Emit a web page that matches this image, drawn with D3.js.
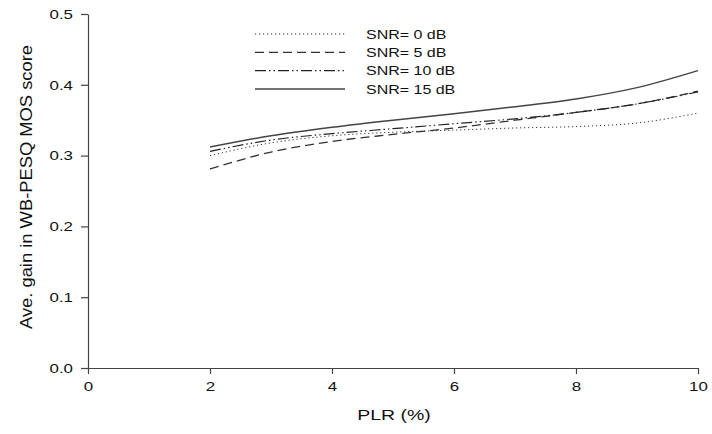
<!DOCTYPE html>
<html><head><meta charset="utf-8">
<script src="https://cdn.jsdelivr.net/npm/d3@7"></script>
<style>body{margin:0;background:#fff}svg{display:block}text{font-family:"Liberation Sans",Arial,sans-serif}</style>
</head><body>
<svg id="c" width="712" height="434"></svg>
<script>
const plr = [2, 3, 4, 5, 6, 7, 8, 9, 10];
const snr0 = [0.300, 0.318, 0.328, 0.333, 0.336, 0.339, 0.341, 0.346, 0.360];
const snr5 = [0.281, 0.305, 0.320, 0.330, 0.339, 0.350, 0.361, 0.373, 0.391];
const snr10 = [0.306, 0.322, 0.331, 0.338, 0.345, 0.352, 0.361, 0.373, 0.390];
const snr15 = [0.312, 0.328, 0.340, 0.350, 0.359, 0.369, 0.380, 0.396, 0.420];
const seriesNames = ["SNR= 0 dB", "SNR= 5 dB", "SNR= 10 dB", "SNR= 15 dB"];
const xTicks = [0, 2, 4, 6, 8, 10];
const yTicks = [0.0, 0.1, 0.2, 0.3, 0.4, 0.5];

const series = [
  {name: seriesNames[0], values: snr0, dash: "1.2,2.8", color: "#333", w: 1},
  {name: seriesNames[1], values: snr5, dash: "9,5", color: "#333", w: 1.3},
  {name: seriesNames[2], values: snr10, dash: "11,3,1.5,3,1.5,3", color: "#222", w: 1.2},
  {name: seriesNames[3], values: snr15, dash: null, color: "#444", w: 1.5}
];

const SX = 1.35; // horizontal stretch of the reference's lettering
const svg = d3.select("#c");
const x = d3.scaleLinear().domain([0, 10]).range([88, 698]);
const y = d3.scaleLinear().domain([0, 0.5]).range([368, 14]);

const xAxis = svg.append("g").attr("transform", "translate(0,368)")
  .call(d3.axisBottom(x).tickValues(xTicks).tickSize(6).tickSizeOuter(0));
const yAxis = svg.append("g").attr("transform", "translate(88,0)")
  .call(d3.axisLeft(y).tickValues(yTicks).tickFormat(d3.format(".1f")).tickSize(7).tickSizeOuter(0));
[xAxis, yAxis].forEach(a => {
  a.selectAll("path,line").attr("stroke", "#444").attr("stroke-width", 1.2);
  a.selectAll("text").attr("font-size", 12.5).attr("fill", "#111");
});
xAxis.selectAll("text").attr("x", 0).attr("y", 0).attr("dy", 0)
  .attr("transform", `translate(0,23) scale(${SX},1)`);
yAxis.selectAll("text").attr("x", 0).attr("dy", "0.35em")
  .attr("transform", `translate(-15,0) scale(${SX},1)`);

svg.append("text").attr("transform", `translate(394,420) scale(1.3,1)`).attr("text-anchor", "middle")
  .attr("font-size", 15).attr("fill", "#111").text("PLR (%)");
svg.append("text").attr("transform", "translate(32,187) rotate(-90)").attr("text-anchor", "middle")
  .attr("font-size", 17).attr("fill", "#111")
  .attr("textLength", 284).attr("lengthAdjust", "spacingAndGlyphs")
  .text("Ave. gain in WB-PESQ MOS score");

const line = d3.line().x((d, i) => x(plr[i])).y(d => y(d)).curve(d3.curveMonotoneX);
series.forEach(s => {
  svg.append("path").attr("d", line(s.values)).attr("fill", "none")
    .attr("stroke", s.color).attr("stroke-width", s.w)
    .attr("stroke-dasharray", s.dash);
});

const lg = svg.append("g");
series.forEach((s, i) => {
  const yy = 34 + i * 18.3;
  lg.append("line").attr("x1", 255).attr("x2", 345).attr("y1", yy).attr("y2", yy)
    .attr("stroke", s.color).attr("stroke-width", s.w).attr("stroke-dasharray", s.dash);
  lg.append("text").attr("transform", `translate(366,${yy}) scale(1.23,1)`).attr("dy", "0.36em")
    .attr("font-size", 13).attr("fill", "#111").text(s.name);
});
</script>
</body></html>
